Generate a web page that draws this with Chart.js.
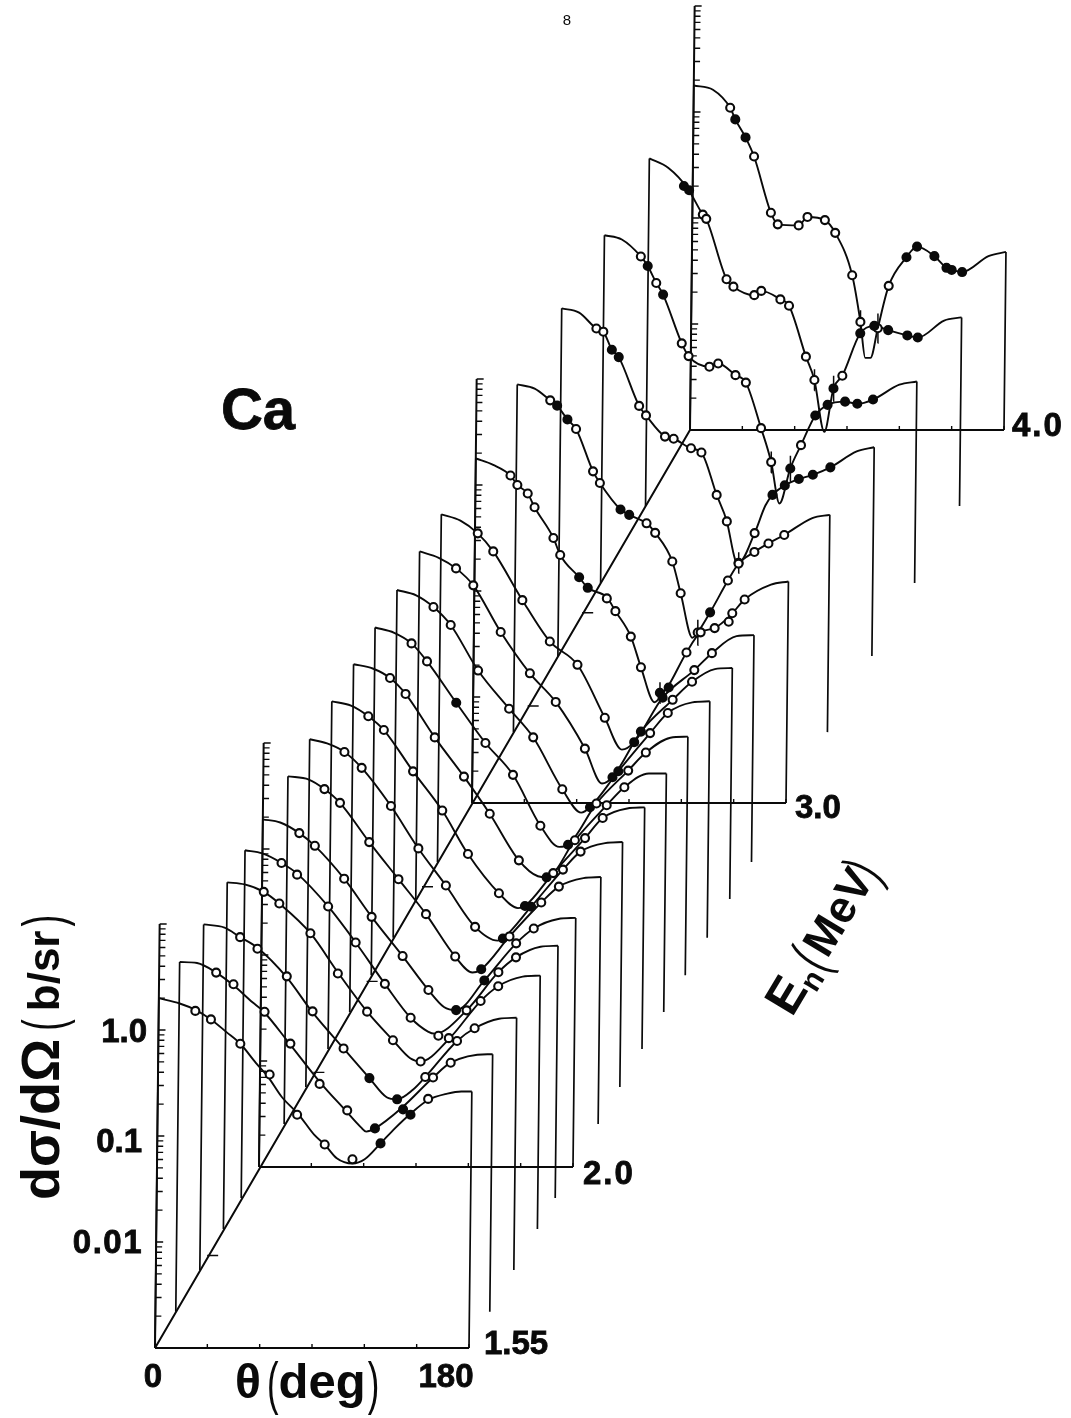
<!DOCTYPE html>
<html>
<head>
<meta charset="utf-8">
<title>Ca dσ/dΩ</title>
<script src="https://cdn.jsdelivr.net/npm/chart.js@4/dist/chart.umd.min.js"></script>
<style>
  html, body { margin: 0; padding: 0; background: #fff; }
  canvas { display: block; }
</style>
</head>
<body>
<canvas id="waterfall" width="1071" height="1418"></canvas>
<script>
// neutron energy of every curve (MeV)
const energies = [1.55, 1.64, 1.744, 1.846, 1.923, 2.0, 2.118, 2.22, 2.324, 2.426, 2.527, 2.63, 2.736, 2.838, 3.0, 3.19, 3.394, 3.59, 3.796, 4.0];

// fitted curves: angle (deg) and log10(dsigma/dOmega in b/sr)
const lineTheta = [
  [0,12,21,30,39,47,56,63,71,81,90,96,103,112,119,128,136,145,155,166,174,180],
  [0,10,21,31,42,48,63,81,96,105,108,113,128,146,156,177,180],
  [0,12,21,31,48,63,81,96,106,112,121,128,146,156,170,180],
  [0,10,21,30,48,64,81,96,106,112,128,146,156,170,180],
  [0,10,21,30,48,64,81,96,106,110,128,146,156,170,180],
  [0,10,21,30,47,63,81,96,105,112,128,146,156,170,180],
  [0,12,21,30,47,64,80,97,107,112,128,146,156,170,180],
  [0,10,20,30,47,63,79,96,109,112,128,146,156,170,180],
  [0,11,21,30,47,64,79,97,108,112,128,146,156,170,180],
  [0,11,21,30,47,64,79,96,107,112,128,146,156,170,180],
  [0,11,21,30,47,64,80,96,107,112,128,146,156,170,180],
  [0,11,21,31,47,65,79,96,107,112,128,146,156,170,180],
  [0,11,21,31,47,64,79,96,106,112,128,146,157,170,180],
  [0,11,21,30,47,63,79,95,105,112,128,146,156,170,180],
  [0,10,20,24,30,34,45,49,60,65,76,81,90,96,104,108,112,122,130,138,147,155,170,180],
  [0,10,19,23,29,34,44,48,60,65,75,80,90,95,102,105,112,122,128,137,145,154,170,180],
  [0,10,20,24,29,33,45,49,60,65,75,81,90,96,101,103,112,118,122,129,137,145,155,170,180],
  [0,10,21,25,30,34,45,49,61,66,76,82,91,97,102,108,114,122,129,139,146,155,170,180],
  [0,11,22,31,33,45,49,61,65,76,81,91,96,102,107,112,122,130,138,149,155,170,180],
  [0,11,21,24,30,35,45,49,61,66,76,82,92,97,100,103,107,113,123,129,139,146,149,155,170,180]
];
const lineLog = [
  [.30,.25,.19,.10,-.02,-.13,-.31,-.44,-.63,-.80,-.99,-1.08,-1.21,-1.26,-1.22,-1.07,-.93,-.79,-.66,-.60,-.58,-.58],
  [.30,.29,.20,.08,-.08,-.16,-.46,-.83,-1.10,-1.26,-1.30,-1.27,-1.08,-.79,-.65,-.57,-.57],
  [.26,.23,.14,.04,-.24,-.57,-.91,-1.19,-1.37,-1.39,-1.30,-1.18,-.84,-.72,-.63,-.62],
  [.27,.25,.18,.07,-.21,-.58,-.95,-1.22,-1.39,-1.42,-1.21,-.85,-.71,-.62,-.61],
  [.28,.25,.16,.06,-.25,-.59,-.98,-1.30,-1.43,-1.45,-1.23,-.87,-.73,-.63,-.62],
  [.28,.25,.15,.03,-.28,-.64,-1.01,-1.33,-1.49,-1.52,-1.24,-.89,-.75,-.66,-.65],
  [.28,.25,.16,.03,-.34,-.69,-1.02,-1.42,-1.57,-1.54,-1.23,-.91,-.76,-.68,-.67],
  [.28,.24,.16,.01,-.35,-.75,-1.10,-1.49,-1.62,-1.60,-1.30,-.95,-.78,-.70,-.69],
  [.28,.24,.14,.01,-.38,-.75,-1.16,-1.53,-1.67,-1.65,-1.34,-1.01,-.82,-.73,-.72],
  [.28,.24,.15,0,-.41,-.78,-1.13,-1.57,-1.72,-1.73,-1.38,-1.05,-.88,-.75,-.75],
  [.28,.23,.13,-.04,-.43,-.81,-1.11,-1.59,-1.79,-1.77,-1.38,-1.07,-.90,-.76,-.75],
  [.28,.23,.12,-.05,-.48,-.84,-1.11,-1.60,-1.82,-1.77,-1.43,-1.07,-.88,-.78,-.77],
  [.28,.22,.12,-.04,-.48,-.87,-1.14,-1.58,-1.91,-1.85,-1.42,-1.12,-.95,-.83,-.82],
  [.28,.22,.10,-.07,-.53,-.92,-1.14,-1.64,-1.94,-1.87,-1.45,-1.19,-1.03,-.87,-.86],
  [.25,.19,.09,0,-.08,-.21,-.50,-.66,-.87,-.97,-1.06,-1.19,-1.43,-1.72,-2.05,-1.98,-1.89,-1.58,-1.39,-1.35,-1.23,-1.08,-.94,-.91],
  [.28,.24,.13,.08,-.05,-.14,-.54,-.65,-.90,-.95,-1.03,-1.12,-1.39,-1.69,-2.11,-2.06,-1.87,-1.57,-1.41,-1.30,-1.22,-1.14,-.98,-.95],
  [.28,.24,.09,.06,-.11,-.18,-.64,-.73,-.93,-.95,-1.04,-1.08,-1.48,-1.73,-2.09,-2.12,-1.84,-1.58,-1.48,-1.39,-1.33,-1.29,-1.22,-1.07,-1.03],
  [.28,.24,.08,-.01,-.17,-.28,-.74,-.86,-.96,-.93,-1.04,-1.11,-1.54,-1.86,-2.25,-1.92,-1.70,-1.42,-1.32,-1.29,-1.31,-1.27,-1.13,-1.10],
  [.28,.19,0,-.25,-.29,-.86,-.93,-1.01,-.97,-1.05,-1.11,-1.59,-1.81,-2.30,-1.89,-1.77,-1.37,-1.30,-1.34,-1.39,-1.41,-1.25,-1.22],
  [.25,.21,.04,-.07,-.24,-.42,-.95,-1.06,-1.07,-.99,-1.02,-1.14,-1.54,-1.98,-2.32,-2.32,-2.04,-1.64,-1.37,-1.27,-1.36,-1.47,-1.49,-1.51,-1.36,-1.32]
];

// measured points
const markTheta = [
  [21,30,47,64,80,96,112,128,145,155],
  [21,31,49,64,81,97,113,129,146,156],
  [21,31,48,63,81,96,112,128,146,156],
  [21,30,48,64,81,96,112,128,146,156],
  [21,30,48,64,81,96,112,128,146,156],
  [21,30,47,63,81,96,112,128,146,156],
  [21,30,47,64,80,97,112,128,146,156],
  [20,30,47,63,79,96,112,128,146,156],
  [21,30,47,64,79,97,112,128,146,156],
  [21,30,47,64,79,96,112,128,146,156],
  [21,30,47,64,80,96,112,128,146,156],
  [21,31,47,65,79,96,112,128,146,156],
  [21,31,47,64,79,96,112,128,146,157],
  [21,30,47,63,79,95,112,128,146,156],
  [20,24,30,34,45,49,60,65,76,81,90,96,107,112,122,130,138,146,148,155],
  [19,23,29,34,44,48,60,65,75,80,90,95,105,112,122,128,137,145,154],
  [20,24,29,33,45,49,60,65,75,81,90,96,103,112,122,129,137,145,155],
  [21,25,30,34,45,49,61,66,76,82,91,97,108,114,122,129,139,146,155],
  [20,23,31,33,45,49,61,65,76,81,91,96,107,112,122,130,138,149,155],
  [21,24,30,35,45,49,61,66,76,82,92,97,107,113,123,129,139,146,149,155]
];
const markLog = [
  [.18,.10,-.13,-.42,-.80,-1.08,-1.22,-1.07,-.80,-.65],
  [.20,.09,-.17,-.47,-.85,-1.10,-1.27,-1.09,-.79,-.65],
  [.14,.03,-.23,-.56,-.91,-1.19,-1.39,-1.18,-.84,-.72],
  [.18,.07,-.21,-.59,-.95,-1.22,-1.42,-1.20,-.85,-.71],
  [.16,.05,-.25,-.59,-.98,-1.30,-1.47,-1.23,-.87,-.73],
  [.15,.03,-.28,-.64,-1.01,-1.33,-1.52,-1.24,-.89,-.75],
  [.16,.03,-.34,-.69,-1.02,-1.42,-1.54,-1.23,-.91,-.76],
  [.16,.01,-.35,-.75,-1.10,-1.49,-1.60,-1.30,-.95,-.78],
  [.14,.01,-.38,-.75,-1.16,-1.53,-1.65,-1.34,-1.01,-.82],
  [.15,0,-.41,-.78,-1.13,-1.57,-1.73,-1.38,-1.05,-.88],
  [.13,-.04,-.43,-.81,-1.11,-1.59,-1.77,-1.38,-1.07,-.90],
  [.12,-.05,-.48,-.84,-1.11,-1.60,-1.77,-1.43,-1.07,-.88],
  [.12,-.04,-.48,-.87,-1.14,-1.58,-1.85,-1.42,-1.12,-.95],
  [.10,-.07,-.53,-.92,-1.14,-1.64,-1.87,-1.45,-1.19,-1.03],
  [.09,0,-.08,-.21,-.50,-.66,-.87,-.97,-1.07,-1.19,-1.43,-1.72,-1.96,-1.91,-1.58,-1.39,-1.35,-1.29,-1.21,-1.08],
  [.13,.08,-.05,-.14,-.54,-.65,-.90,-.95,-1.03,-1.12,-1.39,-1.69,-2.06,-1.87,-1.57,-1.41,-1.30,-1.22,-1.14],
  [.09,.06,-.11,-.18,-.64,-.73,-.93,-.95,-1.04,-1.08,-1.48,-1.73,-2.12,-1.84,-1.48,-1.39,-1.33,-1.29,-1.22],
  [.08,-.01,-.17,-.28,-.74,-.86,-.96,-.93,-1.04,-1.11,-1.54,-1.86,-1.92,-1.70,-1.42,-1.32,-1.29,-1.31,-1.27],
  [.02,-.02,-.25,-.29,-.86,-.93,-1.01,-.97,-1.05,-1.11,-1.59,-1.81,-1.89,-1.77,-1.37,-1.30,-1.34,-1.39,-1.41],
  [.04,-.07,-.24,-.42,-.95,-1.06,-1.07,-.99,-1.02,-1.14,-1.54,-1.98,-2.04,-1.64,-1.37,-1.27,-1.36,-1.47,-1.49,-1.51]
];
// which points came out solid black in the print
const solidMarks = [
  [7,8],[6,7],[5,6],[],[],[6,7],[6],[6,7],[6],[6],
  [2,6],[6,7],[6,7],[6,7],
  [6,7,12,13],[1,2,6,7,13],[2,3,14,15,16,17,18],[1,3,12,14,15,16,17,18],[0,1,12,14,15,16,17,18],[1,2,14,15,16,17,18,19]
];

// the few error bars long enough to show near the deep minima
const errEnergy = [3.0, 3.19, 3.394, 3.59, 3.59, 3.796, 3.796, 4.0, 4.0];
const errTheta = [107, 105, 103, 97, 108, 96, 107, 97, 107];
const errLog = [-1.96, -2.06, -2.12, -1.86, -1.92, -1.81, -1.89, -1.98, -2.04];
const errSize = [.10, .12, .10, .10, .12, .10, .12, .11, .14];

// axes
const axisEnergies = [1.55, 2, 3, 4];
const axisDecades = [0.001, 0.01, 0.1, 1];
const minorSteps = [1, 2, 3, 4, 5, 6, 7, 8, 9];
const thetaTicks = [0, 30, 60, 90, 120, 150, 180];
const energyTicks = [1.78, 2.26, 2.51, 2.77, 3.26, 3.51];

// energy axis positions (the print is not quite linear, so piecewise)
const anchorE = [1.55, 2, 3, 4];
const anchorX = [155, 259, 472, 690];
const anchorY = [1348, 1167, 803, 430];

function baseOf(E) {
  let i = 0;
  while (i < anchorE.length - 2 && E > anchorE[i + 1]) i++;
  const t = (E - anchorE[i]) / (anchorE[i + 1] - anchorE[i]);
  return {
    x: anchorX[i] + t * (anchorX[i + 1] - anchorX[i]),
    y: anchorY[i] + t * (anchorY[i + 1] - anchorY[i])
  };
}

// (E, theta, log sigma) -> position on the sheet
function project(E, theta, logS) {
  const b = baseOf(E);
  const h = (logS + 3) * 106;
  return { x: b.x + theta * 314 / 180 + h * 0.011, y: b.y - h };
}

const GAP = { x: NaN, y: NaN };
const INK = '#0a0a0a';

function lineSet(data, width) {
  return {
    type: 'line', data: data, borderColor: INK, borderWidth: width,
    pointRadius: 0, fill: false, spanGaps: false, tension: 0, order: 3, clip: false
  };
}

const datasets = [];

// frame: diagonal, theta axes, log axes with ticks
const frameLines = [project(1.55, 0, -3), project(4, 0, -3), GAP];
const tickLines = [];
axisEnergies.forEach(E => {
  frameLines.push(project(E, 0, -3), project(E, 180, -3), GAP);
  frameLines.push(project(E, 0, -3), project(E, 0, 1), GAP);
  thetaTicks.forEach(t => {
    const p = project(E, t, -3);
    tickLines.push(p, { x: p.x, y: p.y - 4 }, GAP);
  });
  axisDecades.forEach(d => {
    minorSteps.forEach(m => {
      const p = project(E, 0, Math.log10(d * m));
      tickLines.push(p, { x: p.x + (m === 1 ? 7 : 6), y: p.y }, GAP);
    });
  });
  const top = project(E, 0, 1);
  tickLines.push(top, { x: top.x + 7, y: top.y }, GAP);
});
energyTicks.forEach(E => {
  const p = project(E, 0, -3);
  tickLines.push({ x: p.x - 1, y: p.y }, { x: p.x + 10, y: p.y }, GAP);
});
datasets.push(lineSet(frameLines, 2));
datasets.push(lineSet(tickLines, 1.4));

// curves with their two drop lines
energies.forEach((E, i) => {
  const th = lineTheta[i], lg = lineLog[i];
  const last = th.length - 1;
  const drops = [
    project(E, 0, lg[0]), project(E, 0, -3), GAP,
    project(E, 180, lg[last]), project(E, 180, -3), GAP
  ];
  datasets.push(lineSet(drops, 1.7));

  const curve = lineSet(th.map((t, k) => project(E, t, lg[k])), 1.9);
  curve.cubicInterpolationMode = 'monotone';
  curve.order = 2;
  datasets.push(curve);

  const solid = solidMarks[i];
  datasets.push({
    type: 'scatter',
    data: markTheta[i].map((t, k) => project(E, t, markLog[i][k])),
    showLine: false,
    pointRadius: 4,
    pointBorderWidth: 2.1,
    pointBorderColor: INK,
    pointBackgroundColor: markTheta[i].map((t, k) => solid.includes(k) ? INK : '#fff'),
    order: 1,
    clip: false
  });
});

const errLines = [];
errEnergy.forEach((E, i) => {
  errLines.push(project(E, errTheta[i], errLog[i] - errSize[i]), project(E, errTheta[i], errLog[i] + errSize[i]), GAP);
});
datasets.push(lineSet(errLines, 1.5));

// lays out several font runs along one baseline
function drawRun(ctx, parts, x, y, angle) {
  ctx.save();
  ctx.translate(x, y);
  ctx.rotate(angle);
  let cx = 0;
  parts.forEach(p => {
    ctx.font = p.font;
    const sx = p.sx || 1;
    ctx.save();
    ctx.translate(cx, p.dy || 0);
    ctx.scale(sx, 1);
    ctx.fillText(p.text, 0, 0);
    ctx.restore();
    cx += ctx.measureText(p.text).width * sx + (p.gap || 0);
  });
  ctx.restore();
}

// the print is heavier than the plain bold face
function heavyText(ctx, text, x, y) {
  ctx.fillText(text, x, y);
  ctx.strokeText(text, x, y);
}

const BOLD = 'bold 33px "Liberation Sans"';
const PAREN = '58px "Liberation Sans"';
const labelPlugin = {
  id: 'labels',
  afterDraw(chart) {
    const ctx = chart.ctx;
    ctx.save();
    ctx.fillStyle = INK;
    ctx.strokeStyle = INK;
    ctx.lineWidth = 0.8;
    ctx.textBaseline = 'alphabetic';

    ctx.textAlign = 'center';
    ctx.font = '15px "Liberation Sans"';
    ctx.fillText('8', 567, 25);
    ctx.font = 'bold 58px "Liberation Sans"';
    heavyText(ctx, 'Ca', 258, 429);
    ctx.font = BOLD;
    heavyText(ctx, '0', 153, 1387);
    heavyText(ctx, '180', 446, 1387);

    ctx.textAlign = 'left';
    heavyText(ctx, '1.55', 484, 1354);
    heavyText(ctx, '3.0', 795, 818);
    ctx.letterSpacing = '2px';
    heavyText(ctx, '2.0', 583, 1184);
    heavyText(ctx, '4.0', 1012, 436);
    ctx.letterSpacing = '0px';

    ctx.textAlign = 'right';
    heavyText(ctx, '1.0', 147, 1042);
    heavyText(ctx, '0.1', 142, 1152);
    ctx.letterSpacing = '1.5px';
    heavyText(ctx, '0.01', 143, 1253);
    ctx.letterSpacing = '0px';

    ctx.textAlign = 'left';
    drawRun(ctx, [
      { text: 'θ', font: 'bold 48px "Liberation Sans"', gap: 6 },
      { text: '(', font: PAREN, sx: 0.6, dy: 5 },
      { text: 'deg', font: 'bold 49px "Liberation Sans"', gap: 2 },
      { text: ')', font: PAREN, sx: 0.6, dy: 5 }
    ], 235, 1398, 0);

    drawRun(ctx, [
      { text: 'dσ/dΩ', font: 'bold 54px "Liberation Sans"', gap: 8 },
      { text: '(', font: PAREN, sx: 0.6, dy: 4, gap: 8 },
      { text: 'b/sr', font: 'bold 44px "Liberation Sans"', gap: 4 },
      { text: ')', font: PAREN, sx: 0.6, dy: 4 }
    ], 59, 1200, -Math.PI / 2);

    drawRun(ctx, [
      { text: 'E', font: 'bold 50px "Liberation Sans"' },
      { text: 'n', font: 'bold 30px "Liberation Sans"', dy: 8, gap: 2 },
      { text: '(', font: PAREN, sx: 0.6, dy: 4, gap: 3 },
      { text: 'MeV', font: 'bold 45px "Liberation Sans"', gap: -3 },
      { text: ')', font: PAREN, sx: 0.6, dy: 4 }
    ], 792, 1018, -59 * Math.PI / 180);
    ctx.restore();
  }
};

new Chart(document.getElementById('waterfall'), {
  data: { datasets: datasets },
  options: {
    responsive: false,
    animation: false,
    devicePixelRatio: 1,
    layout: { padding: 0, autoPadding: false },
    plugins: { legend: { display: false }, tooltip: { enabled: false } },
    scales: {
      x: { type: 'linear', min: 0, max: 1071, display: false },
      y: { type: 'linear', min: 0, max: 1418, reverse: true, display: false }
    }
  },
  plugins: [labelPlugin]
});
</script>
</body>
</html>
